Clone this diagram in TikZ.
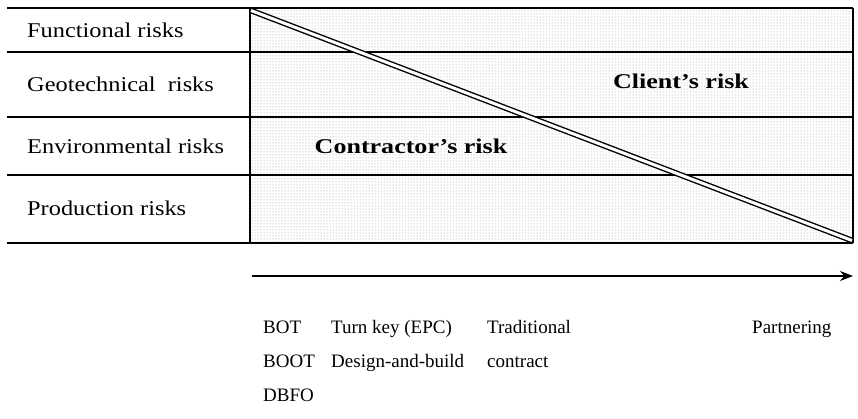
\documentclass[tikz,border=0pt]{standalone}
\usepackage{fontspec}
\setmainfont{Liberation Serif}
\newfontfamily\widserif[FakeStretch=1.16]{Liberation Serif}
\newfontfamily\heavyserif[FakeStretch=1.24]{Liberation Serif}
\usetikzlibrary{arrows.meta,patterns}
\begin{document}
\begin{tikzpicture}[x=1pt,y=-1pt,
  rowlabel/.style={anchor=base west,inner sep=0pt,font=\widserif\fontsize{21}{24}\selectfont},
  risklabel/.style={anchor=base,inner sep=0pt,font=\heavyserif\fontsize{21}{24}\selectfont\bfseries},
  formlabel/.style={anchor=base west,inner sep=0pt,font=\fontsize{19}{22}\selectfont},
  rule/.style={line width=1.1pt},
  divider/.style={line width=1.4pt,draw=black,double=white,double distance=3pt}]
\useasboundingbox (0,0) rectangle (858,419);

% corners of the shaded risk area
\coordinate (tl) at (250,8);
\coordinate (tr) at (853,8);
\coordinate (bl) at (250,243);
\coordinate (br) at (853,243);

% stippled background
\fill[pattern=dots,pattern color=black!40] (tl) rectangle (br);

% table rules
\draw[rule] (7,8) -- (tr);
\draw[rule] (7,52) -- (853,52);
\draw[rule] (7,117) -- (853,117);
\draw[rule] (7,175) -- (853,175);
\draw[line width=1.6pt] (7,243) -- (br);
\draw[rule] (tl) -- (bl);
\draw[rule] (tr) -- (br);

% diagonal split between the two parties
\begin{scope}
  \clip (tl) rectangle (br);
  \draw[divider] (251,10.5) -- (852,240.5);
\end{scope}

% row labels
\node[rowlabel] (r1) at (27,38) {Functional risks};
\node[rowlabel] (r2) at (27,92) {Geotechnical\ \ risks};
\node[rowlabel] (r3) at (27,154) {Environmental risks};
\node[rowlabel] (r4) at (27,216) {Production risks};

\node[risklabel] (client) at (681,89) {Client’s risk};
\node[risklabel] (contractor) at (411,154) {Contractor’s risk};

% spectrum arrow
\coordinate (a0) at (252,276);
\coordinate (a1) at (853,276);
\draw[line width=1.5pt,-{Stealth[length=13pt,width=10pt]}] (a0) -- (a1);

% contract forms
\node[formlabel] (f1) at (263,333) {BOT};
\node[formlabel] (f2) at (263,367) {BOOT};
\node[formlabel] (f3) at (263,401) {DBFO};
\node[formlabel] (f4) at (331,333) {Turn key (EPC)};
\node[formlabel] (f5) at (331,367) {Design-and-build};
\node[formlabel] (f6) at (487,333) {Traditional};
\node[formlabel] (f7) at (487,367) {contract};
\node[formlabel] (f8) at (752,333) {Partnering};
\end{tikzpicture}
\end{document}
